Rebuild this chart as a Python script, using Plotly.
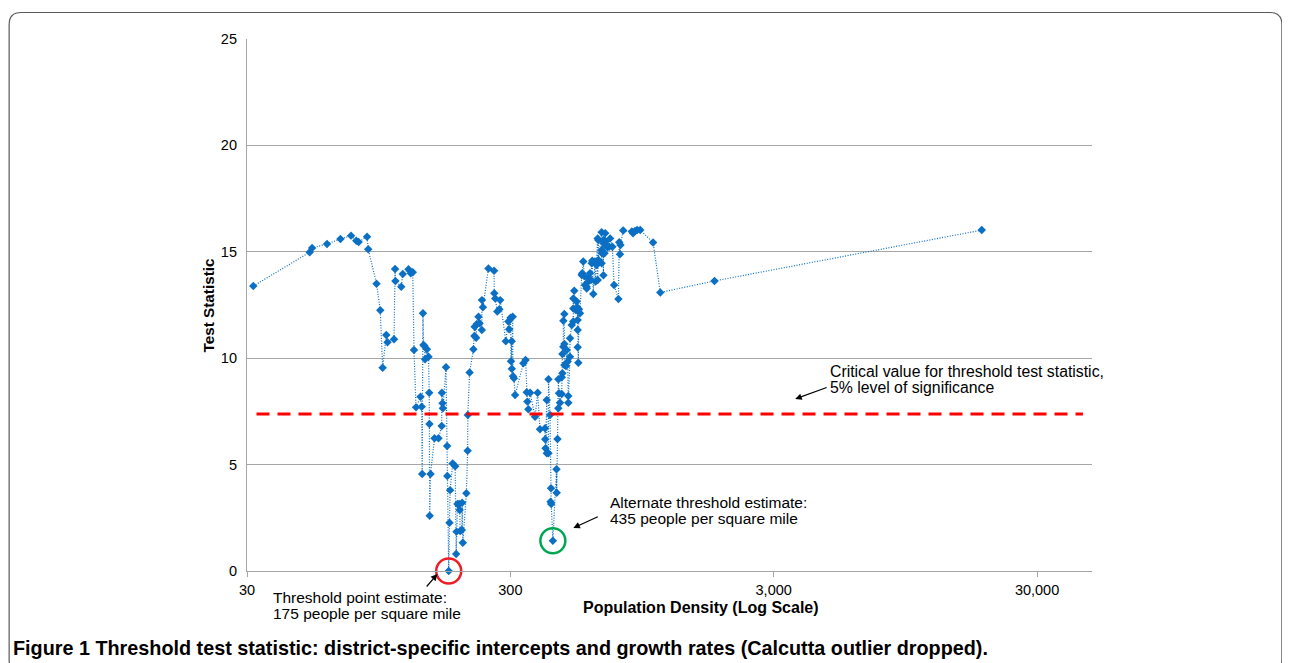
import plotly.graph_objects as go

# Population density (people per square mile) and threshold test statistic
density = [
    31.7, 51.9, 53.0, 60.4, 67.9, 74.5, 78.0, 79.6, 85.7, 86.6,
    93.1, 96.2, 98.2, 101.4, 102.5, 108.5, 109.5, 109.8, 115.6, 117.1,
    123.1, 125.6, 127.8, 129.2, 131.5, 136.8, 138.2, 138.8, 139.7, 140.4,
    141.6, 142.3, 144.6, 146.7, 147.6, 147.9, 148.2, 149.3, 154.6, 160.1,
    164.6, 164.9, 165.8, 166.3, 170.9, 172.6, 172.9, 175.0, 176.2, 177.2,
    181.2, 185.2, 186.8, 187.3, 189.0, 191.8, 192.6, 193.5, 196.3, 196.8,
    198.0, 204.2, 206.5, 206.8, 210.1, 217.2, 219.1, 219.5, 222.5, 223.8,
    227.1, 229.2, 233.8, 234.0, 236.0, 247.7, 260.2, 260.7, 262.9, 267.6,
    272.6, 274.5, 288.3, 294.9, 296.9, 300.6, 301.7, 303.6, 303.8, 306.2,
    307.0, 309.5, 312.7, 336.2, 342.7, 346.2, 348.1, 351.1, 356.6, 372.3,
    380.9, 388.7, 406.3, 407.0, 408.0, 412.4, 412.6, 418.5, 418.7, 424.4,
    426.3, 428.1, 428.9, 435.0, 449.1, 449.9, 453.0, 456.3, 456.5, 459.0,
    463.1, 470.1, 470.3, 472.8, 473.0, 476.6, 476.9, 481.0, 481.2, 481.4,
    488.2, 491.0, 495.2, 497.8, 498.0, 505.3, 505.5, 513.2, 520.0, 520.2,
    520.4, 524.6, 531.0, 535.8, 538.5, 540.2, 540.4, 540.6, 543.5, 546.6,
    551.5, 559.7, 562.5, 567.5, 572.5, 576.0, 584.6, 584.8, 593.1, 593.3,
    601.8, 607.1, 610.9, 614.0, 619.5, 628.5, 632.2, 638.0, 643.7, 643.9,
    647.4, 647.6, 666.4, 666.6, 666.8, 668.6, 676.7, 676.9, 677.1, 683.3,
    687.7, 690.9, 692.1, 701.0, 712.1, 717.8, 732.0, 743.1, 771.7, 777.3,
    782.3, 785.8, 804.7, 868.1, 877.3, 892.3, 909.6, 934.1, 1045, 1113,
    1788, 18500,
]
test_stat = [
    13.39, 14.98, 15.18, 15.37, 15.60, 15.76, 15.52, 15.46, 15.71, 15.12,
    13.50, 12.25, 9.55, 11.09, 10.75, 10.89, 14.19, 13.63, 13.36, 13.96,
    14.18, 13.99, 14.04, 10.39, 7.69, 8.19, 7.72, 4.56, 12.11, 10.62,
    10.57, 9.95, 10.42, 10.07, 8.38, 6.91, 2.60, 4.56, 6.24, 6.24,
    6.81, 8.38, 7.88, 7.65, 9.57, 5.87, 4.46, 0.0, 2.27, 3.80,
    5.05, 4.92, 0.80, 1.85, 3.15, 3.15, 2.87, 1.88, 1.93, 3.21,
    1.33, 3.65, 5.65, 7.33, 9.33, 10.42, 11.04, 11.48, 10.96, 11.61,
    11.95, 11.64, 11.33, 12.73, 12.39, 14.22, 14.11, 13.05, 12.81, 12.19,
    12.30, 12.73, 10.80, 11.72, 11.36, 11.90, 9.86, 10.80, 9.50, 11.95,
    9.15, 9.06, 8.27, 9.76, 9.92, 8.40, 7.96, 7.60, 8.38, 7.25,
    8.38, 6.66, 6.71, 6.19, 5.77, 8.04, 5.53, 5.53, 9.01, 7.33,
    3.26, 3.89, 3.15, 1.42, 4.78, 3.68, 6.20, 7.65, 9.01, 8.35,
    7.91, 8.32, 9.10, 9.29, 10.20, 10.54, 11.76, 12.08, 10.67, 9.68,
    9.63, 10.39, 9.84, 8.22, 7.91, 10.07, 10.94, 11.56, 11.72, 12.34,
    12.81, 13.17, 12.26, 12.66, 12.39, 11.80, 11.33, 10.51, 9.79, 12.30,
    12.11, 13.91, 13.99, 14.54, 13.86, 13.44, 13.36, 13.28, 13.60, 13.75,
    13.99, 13.67, 14.46, 14.58, 13.02, 14.54, 13.60, 14.38, 15.63, 13.67,
    15.55, 14.61, 15.92, 14.46, 15.08, 14.93, 15.55, 13.90, 15.40, 14.93,
    15.87, 15.48, 15.32, 15.21, 15.24, 15.63, 15.24, 13.44, 12.78, 15.45,
    14.88, 15.32, 16.00, 15.95, 15.87, 15.98, 16.02, 16.02, 15.44, 13.09,
    13.63, 16.02,
]

critical_x = [32.6, 44800]
critical_value = [7.38, 7.38]

threshold_x = [175]
threshold_y = [0.0]
alt_threshold_x = [435]
alt_threshold_y = [1.42]

x_tickvals = [30, 300, 3000, 30000]
x_ticktext = ["30", "300", "3,000", "30,000"]
y_tickvals = [0, 5, 10, 15, 20, 25]

BLUE = "#0b6fc4"
FONT = "Liberation Sans, Arial, sans-serif"

fig = go.Figure()

fig.add_trace(go.Scatter(
    x=density, y=test_stat, mode="lines+markers",
    line=dict(color=BLUE, width=1.2, dash="1px,1.6px"),
    marker=dict(symbol="diamond", size=6.5, color=BLUE),
    cliponaxis=False, showlegend=False, hoverinfo="x+y",
))

fig.add_trace(go.Scatter(
    x=critical_x, y=critical_value, mode="lines",
    line=dict(color="#ff0000", width=3, dash="13px,8px"),
    showlegend=False, hoverinfo="skip",
))

fig.add_trace(go.Scatter(
    x=threshold_x, y=threshold_y, mode="markers",
    marker=dict(symbol="circle-open", size=25, color="#ee1c24",
                line=dict(width=2.5, color="#ee1c24")),
    cliponaxis=False, showlegend=False, hoverinfo="skip",
))
fig.add_trace(go.Scatter(
    x=alt_threshold_x, y=alt_threshold_y, mode="markers",
    marker=dict(symbol="circle-open", size=25, color="#00a651",
                line=dict(width=2.5, color="#00a651")),
    cliponaxis=False, showlegend=False, hoverinfo="skip",
))

# The page body has an 8px margin, so the figure starts at page (8, 8).
OFF = 8
FIG_W, FIG_H = 1290 - OFF, 663 - OFF
# plot area in page pixels: left 246.5, right 1092, top 39, bottom 571
L, R, T, B = 246.5, 1092.0, 39.0, 571.0
W, H = R - L, B - T


def px(xp):
    return (xp - L) / W


def py(yp):
    return (B - yp) / H


annotations = []


def text(t, xp, yp, size=15.5, bold=False, xanchor="left", angle=0):
    annotations.append(dict(
        text=f"<b>{t}</b>" if bold else t, x=px(xp), y=py(yp),
        xref="paper", yref="paper", xanchor=xanchor, yanchor="middle",
        showarrow=False, textangle=angle,
        font=dict(size=size, color="#000000", family=FONT),
    ))


def arrow(hx, hy, tx, ty):
    annotations.append(dict(
        text="", x=px(hx), y=py(hy), xref="paper", yref="paper",
        ax=tx - hx, ay=ty - hy, showarrow=True, arrowhead=2,
        arrowsize=1.1, arrowwidth=1.2, arrowcolor="#000000",
    ))


text("Critical value for threshold test statistic,", 828, 371, size=15.8)
text("5% level of significance", 828, 387, size=15.8)
arrow(795, 399, 828, 387)

text("Alternate threshold estimate:", 608, 502)
text("435 people per square mile", 608, 518)
arrow(573, 528, 599, 516)

text("Threshold point estimate:", 271, 597)
text("175 people per square mile", 271, 613)
arrow(437, 574, 425, 588)

text("Test Statistic", 207, 305, size=15.3, bold=True, xanchor="center", angle=-90)
text("Population Density (Log Scale)", 700.5, 607, size=16, bold=True, xanchor="center")

text("Figure 1 Threshold test statistic: district-specific intercepts and growth rates (Calcutta outlier dropped).",
     10, 648, size=19.8, bold=True)

# rounded outer border
rx, ry = 12 / W, 12 / H
x0, x1 = px(8.5), px(1282)
y0, y1 = py(672), py(12.5)
path = (f"M {x0+rx} {y1} L {x1-rx} {y1} Q {x1} {y1} {x1} {y1-ry} "
        f"L {x1} {y0+ry} Q {x1} {y0} {x1-rx} {y0} L {x0+rx} {y0} "
        f"Q {x0} {y0} {x0} {y0+ry} L {x0} {y1-ry} Q {x0} {y1} {x0+rx} {y1} Z")

fig.update_layout(
    width=FIG_W, height=FIG_H,
    margin=dict(l=L - OFF, r=FIG_W - (R - OFF), t=T - OFF, b=FIG_H - (B - OFF), pad=0),
    paper_bgcolor="white", plot_bgcolor="white",
    font=dict(family=FONT, size=14, color="#000000"),
    annotations=annotations,
    shapes=[dict(type="path", path=path, xref="paper", yref="paper",
                 line=dict(color="#5a5a5a", width=1.2), layer="below")],
    xaxis=dict(
        type="log", range=[1.4771, 4.6858],
        tickvals=x_tickvals, ticktext=x_ticktext,
        showgrid=False, showline=True, linecolor="#a6a6a6", linewidth=1.2,
        ticks="outside", ticklen=5, tickcolor="#a6a6a6",
        tickfont=dict(size=14.5), zeroline=False,
    ),
    yaxis=dict(
        range=[0, 25], tickvals=y_tickvals,
        showgrid=True, gridcolor="#a6a6a6", gridwidth=1.2,
        showline=True, linecolor="#a6a6a6", linewidth=1.2,
        ticks="", tickfont=dict(size=14.5), zeroline=False,
        ticklabelstandoff=6,
    ),
    hovermode="closest",
)

fig.write_html("out.html")
